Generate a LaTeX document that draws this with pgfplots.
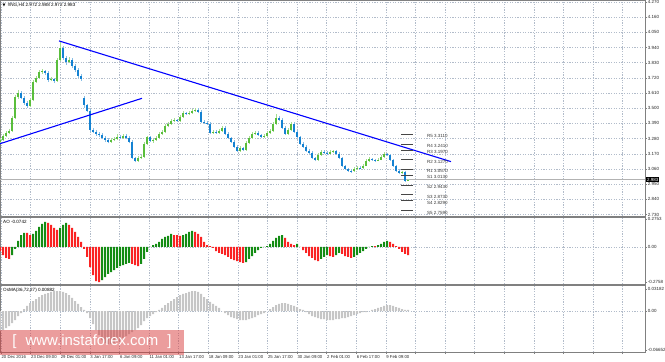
\documentclass[border=0pt]{standalone}
\usepackage{fontspec}
\setmainfont{Liberation Sans}
\newfontfamily\dejavu{DejaVu Sans}
\usepackage{pgfplots}
\usepackage{pgfplotstable}
\pgfplotsset{compat=1.18}

\definecolor{bullbody}{RGB}{90,190,60}
\definecolor{bullwick}{RGB}{165,222,145}
\definecolor{bearbody}{RGB}{20,130,210}
\definecolor{bearwick}{RGB}{135,190,230}
\definecolor{aogreen}{RGB}{20,140,20}
\definecolor{aored}{RGB}{250,35,35}
\definecolor{osmagray}{RGB}{198,198,198}
\definecolor{gridc}{RGB}{178,188,202}
\definecolor{pivc}{RGB}{70,70,70}
\definecolor{wm}{RGB}{215,60,60}

\pgfplotstableread{
x o h l c
0 3.255 3.285 3.245 3.272
3 3.272 3.312 3.262 3.301
6 3.301 3.335 3.292 3.323
9 3.323 3.350 3.312 3.337
12 3.337 3.445 3.330 3.431
15 3.431 3.598 3.425 3.583
18 3.583 3.630 3.570 3.612
21 3.612 3.625 3.565 3.576
24 3.576 3.590 3.525 3.540
27 3.540 3.552 3.500 3.518
30 3.518 3.575 3.510 3.561
33 3.561 3.705 3.552 3.692
36 3.692 3.735 3.680 3.720
39 3.720 3.780 3.712 3.764
42 3.764 3.785 3.750 3.771
45 3.771 3.780 3.742 3.757
48 3.757 3.768 3.690 3.706
51 3.706 3.728 3.695 3.713
54 3.713 3.722 3.685 3.699
57 3.699 3.865 3.692 3.851
60 3.851 3.985 3.840 3.937
63 3.937 3.950 3.850 3.865
66 3.865 3.880 3.815 3.836
69 3.836 3.870 3.825 3.851
72 3.851 3.862 3.790 3.807
75 3.807 3.822 3.762 3.778
78 3.778 3.790 3.720 3.735
81 3.735 3.748 3.700 3.713
84 3.575 3.590 3.505 3.520
87 3.520 3.530 3.470 3.482
90 3.482 3.492 3.330 3.344
93 3.344 3.360 3.318 3.330
96 3.330 3.345 3.300 3.316
99 3.316 3.330 3.295 3.308
102 3.308 3.320 3.275 3.287
105 3.287 3.300 3.258 3.272
108 3.272 3.285 3.245 3.258
111 3.258 3.285 3.250 3.272
114 3.272 3.292 3.262 3.279
117 3.279 3.310 3.270 3.294
120 3.294 3.305 3.275 3.287
123 3.287 3.315 3.280 3.301
126 3.301 3.312 3.275 3.287
129 3.287 3.296 3.245 3.258
132 3.258 3.268 3.130 3.142
135 3.142 3.150 3.108 3.120
138 3.120 3.155 3.112 3.142
141 3.142 3.162 3.135 3.149
144 3.149 3.255 3.142 3.240
147 3.240 3.302 3.232 3.290
150 3.290 3.298 3.255 3.265
153 3.265 3.280 3.250 3.272
156 3.272 3.298 3.265 3.287
159 3.287 3.328 3.278 3.316
162 3.316 3.342 3.305 3.330
165 3.330 3.385 3.322 3.373
168 3.373 3.400 3.362 3.388
171 3.388 3.422 3.378 3.410
174 3.410 3.430 3.400 3.417
177 3.417 3.425 3.398 3.410
180 3.410 3.450 3.402 3.438
183 3.438 3.480 3.430 3.467
186 3.467 3.475 3.450 3.460
189 3.460 3.478 3.452 3.467
192 3.467 3.495 3.460 3.482
195 3.482 3.505 3.475 3.489
198 3.489 3.500 3.462 3.475
201 3.475 3.485 3.390 3.402
204 3.402 3.412 3.385 3.395
207 3.395 3.405 3.375 3.388
210 3.388 3.398 3.310 3.323
213 3.323 3.342 3.315 3.330
216 3.330 3.340 3.312 3.323
219 3.323 3.350 3.315 3.337
222 3.337 3.372 3.330 3.359
225 3.359 3.368 3.305 3.316
228 3.316 3.325 3.275 3.287
231 3.287 3.295 3.245 3.258
234 3.258 3.268 3.210 3.222
237 3.222 3.232 3.182 3.193
240 3.193 3.225 3.185 3.214
243 3.214 3.222 3.190 3.200
246 3.200 3.262 3.192 3.250
249 3.250 3.298 3.242 3.287
252 3.287 3.328 3.280 3.316
255 3.316 3.335 3.308 3.323
258 3.323 3.332 3.298 3.308
261 3.308 3.315 3.282 3.294
264 3.294 3.312 3.285 3.301
267 3.301 3.335 3.292 3.323
270 3.323 3.350 3.315 3.337
273 3.337 3.400 3.330 3.388
276 3.388 3.455 3.380 3.431
279 3.431 3.445 3.405 3.417
282 3.417 3.428 3.350 3.359
285 3.359 3.368 3.305 3.316
288 3.316 3.355 3.308 3.344
291 3.344 3.400 3.335 3.388
294 3.388 3.398 3.320 3.330
297 3.330 3.340 3.285 3.294
300 3.294 3.302 3.235 3.243
303 3.243 3.252 3.212 3.222
306 3.222 3.232 3.182 3.193
309 3.193 3.202 3.168 3.178
312 3.178 3.188 3.132 3.142
315 3.142 3.150 3.115 3.128
318 3.128 3.175 3.120 3.164
321 3.164 3.200 3.155 3.185
324 3.185 3.195 3.168 3.178
327 3.178 3.188 3.162 3.171
330 3.171 3.198 3.165 3.185
333 3.185 3.198 3.175 3.190
336 3.190 3.198 3.162 3.171
339 3.171 3.180 3.132 3.142
342 3.142 3.150 3.075 3.084
345 3.084 3.092 3.052 3.062
348 3.062 3.070 3.038 3.048
351 3.048 3.058 3.030 3.045
354 3.045 3.072 3.038 3.062
357 3.062 3.082 3.055 3.070
360 3.070 3.078 3.060 3.068
363 3.068 3.095 3.062 3.084
366 3.084 3.132 3.078 3.120
369 3.120 3.145 3.112 3.135
372 3.135 3.142 3.120 3.128
375 3.128 3.135 3.112 3.120
378 3.120 3.138 3.115 3.128
381 3.128 3.160 3.122 3.149
384 3.149 3.182 3.142 3.171
387 3.171 3.178 3.155 3.164
390 3.164 3.170 3.120 3.128
393 3.128 3.135 3.075 3.084
396 3.084 3.092 3.040 3.048
399 3.048 3.060 3.022 3.030
402 3.030 3.048 3.020 3.040
405 3.040 3.045 2.965 2.972
408 2.972 2.988 2.972 2.983
}\candles

\pgfplotstableread{
x v g
0 -0.037 0
3 -0.074 0
6 -0.101 0
9 -0.110 0
12 -0.074 1
15 -0.018 1
18 0.055 1
21 0.110 1
24 0.129 1
27 0.129 0
30 0.110 0
33 0.120 1
36 0.147 1
39 0.184 1
42 0.212 1
45 0.230 1
48 0.221 0
51 0.202 0
54 0.175 0
57 0.156 0
60 0.175 1
63 0.202 1
66 0.221 1
69 0.202 0
72 0.175 0
75 0.138 0
78 0.092 0
81 0.046 0
84 -0.018 0
87 -0.092 0
90 -0.184 0
93 -0.258 0
96 -0.313 0
99 -0.322 0
102 -0.304 1
105 -0.276 1
108 -0.248 1
111 -0.230 1
114 -0.212 1
117 -0.193 1
120 -0.175 1
123 -0.166 1
126 -0.156 1
129 -0.147 1
132 -0.156 0
135 -0.166 0
138 -0.175 0
141 -0.156 1
144 -0.110 1
147 -0.046 1
150 0.000 1
153 0.018 1
156 0.028 1
159 0.046 1
162 0.074 1
165 0.092 1
168 0.101 1
171 0.120 1
174 0.110 0
177 0.110 0
180 0.101 0
183 0.110 1
186 0.120 1
189 0.138 1
192 0.147 1
195 0.138 0
198 0.120 0
201 0.092 0
204 0.046 0
207 0.018 0
210 0.009 0
213 -0.009 0
216 -0.037 0
219 -0.055 0
222 -0.064 0
225 -0.074 0
228 -0.092 0
231 -0.110 0
234 -0.120 0
237 -0.129 0
240 -0.138 0
243 -0.147 0
246 -0.138 1
249 -0.110 1
252 -0.083 1
255 -0.055 1
258 -0.028 1
261 -0.009 1
264 0.000 1
267 0.009 1
270 0.028 1
273 0.055 1
276 0.083 1
279 0.101 1
282 0.110 1
285 0.083 0
288 0.046 0
291 0.028 0
294 0.018 0
297 0.028 1
300 0.000 0
303 -0.028 0
306 -0.055 0
309 -0.083 0
312 -0.101 0
315 -0.120 0
318 -0.129 0
321 -0.110 1
324 -0.092 1
327 -0.074 1
330 -0.083 0
333 -0.092 0
336 -0.074 1
339 -0.055 1
342 -0.064 0
345 -0.083 0
348 -0.092 0
351 -0.101 0
354 -0.092 1
357 -0.074 1
360 -0.055 1
363 -0.037 1
366 -0.018 1
369 0.000 1
372 0.009 1
375 0.009 0
378 0.018 1
381 0.028 1
384 0.046 1
387 0.055 1
390 0.046 0
393 0.028 0
396 0.009 0
399 -0.018 0
402 -0.046 0
405 -0.064 0
408 -0.074 0
}\aotab

\pgfplotstableread{
x v
0 -0.0290
3 -0.0276
6 -0.0247
9 -0.0218
12 -0.0174
15 -0.0131
18 -0.0073
21 -0.0029
24 0.0029
27 0.0073
30 0.0116
33 0.0145
36 0.0174
39 0.0203
42 0.0232
45 0.0247
48 0.0261
51 0.0276
54 0.0290
57 0.0290
60 0.0290
63 0.0276
66 0.0261
69 0.0232
72 0.0189
75 0.0145
78 0.0102
81 0.0058
84 0.0015
87 -0.0029
90 -0.0102
93 -0.0189
96 -0.0276
99 -0.0348
102 -0.0421
105 -0.0464
108 -0.0479
111 -0.0479
114 -0.0464
117 -0.0450
120 -0.0421
123 -0.0392
126 -0.0363
129 -0.0334
132 -0.0305
135 -0.0276
138 -0.0247
141 -0.0203
144 -0.0145
147 -0.0102
150 -0.0073
153 -0.0044
156 -0.0015
159 0.0015
162 0.0044
165 0.0087
168 0.0116
171 0.0145
174 0.0174
177 0.0203
180 0.0232
183 0.0247
186 0.0261
189 0.0276
192 0.0290
195 0.0290
198 0.0276
201 0.0247
204 0.0203
207 0.0174
210 0.0131
213 0.0102
216 0.0073
219 0.0044
222 0.0000
225 -0.0029
228 -0.0058
231 -0.0087
234 -0.0102
237 -0.0116
240 -0.0131
243 -0.0131
246 -0.0131
249 -0.0116
252 -0.0102
255 -0.0087
258 -0.0058
261 -0.0044
264 -0.0029
267 0.0000
270 0.0029
273 0.0058
276 0.0087
279 0.0102
282 0.0116
285 0.0116
288 0.0102
291 0.0087
294 0.0073
297 0.0058
300 0.0029
303 0.0015
306 -0.0015
309 -0.0044
312 -0.0073
315 -0.0087
318 -0.0102
321 -0.0116
324 -0.0116
327 -0.0131
330 -0.0131
333 -0.0131
336 -0.0116
339 -0.0116
342 -0.0102
345 -0.0102
348 -0.0087
351 -0.0073
354 -0.0058
357 -0.0044
360 -0.0029
363 -0.0015
366 -0.0015
369 0.0000
372 0.0015
375 0.0029
378 0.0044
381 0.0058
384 0.0073
387 0.0087
390 0.0087
393 0.0073
396 0.0058
399 0.0044
402 0.0029
405 0.0015
408 0.0015
}\osmatab

\tikzset{
  pivlab/.style={anchor=west, font=\fontsize{4.5}{5}\selectfont, text=black!80, inner sep=0pt, yshift=-2bp},
}
\pgfplotsset{
  mtbase/.style={
    scale only axis, width=645bp, xmin=0, xmax=645,
    axis line style={draw=black!50, line width=0.6bp},
    tick style={draw=black!50, line width=0.4bp},
    major tick length=2bp, tick align=outside,
    xtick pos=left, ytick pos=right, yticklabel pos=right,
    scaled y ticks=false, scaled x ticks=false,
    xtick={1,30.6,60.2,89.8,119.4,149,178.6,208.2,237.8,267.4,297,326.6,356.2,385.8,415.4,445,474.6,504.2,533.8,563.4,593,622.6},
    xmajorgrids, ymajorgrids,
    grid style={draw=gridc, dash pattern=on 1.2bp off 1.4bp, line width=0.45bp},
    ticklabel style={font=\fontsize{4.5}{5}\selectfont, text=black!85},
    yticklabel style={anchor=west, inner xsep=0.6bp},
    /pgf/number format/assume math mode=true,
    clip=false,
  },
  wickbull/.style={draw=bullwick, line width=0.7bp, quiver={u=0, v=\thisrow{h}-\thisrow{l}},
    restrict expr to domain={\thisrow{c}-\thisrow{o}}{0:10}},
  wickbear/.style={draw=bearwick, line width=0.7bp, quiver={u=0, v=\thisrow{h}-\thisrow{l}},
    restrict expr to domain={\thisrow{c}-\thisrow{o}}{-10:-0.0001}},
  bodybull/.style={draw=bullbody, line width=2.1bp, quiver={u=0, v=\thisrow{c}-\thisrow{o}},
    restrict expr to domain={\thisrow{c}-\thisrow{o}}{0:10}},
  bodybear/.style={draw=bearbody, line width=2.1bp, quiver={u=0, v=\thisrow{c}-\thisrow{o}},
    restrict expr to domain={\thisrow{c}-\thisrow{o}}{-10:-0.0001}},
  pivot/.style={draw=pivc, line width=0.7bp},
}

\begin{document}
\begin{tikzpicture}
\path[use as bounding box] (0bp,0bp) rectangle (665bp,-362bp);

% ---------- price panel ----------
\begin{axis}[mtbase, at={(0bp,0bp)}, anchor=north west, height=216bp,
  ymin=2.719, ymax=4.2845, xticklabels={},
  ytick={2.73,2.84,2.95,3.06,3.17,3.28,3.39,3.50,3.61,3.72,3.83,3.94,4.05,4.16,4.27},
  yticklabels={2.730,2.840,2.950,3.060,3.170,3.280,3.390,3.500,3.610,3.720,3.830,3.940,4.050,4.160,4.270}]
  \addplot[draw=black!30, line width=0.6bp] coordinates {(0,2.983) (645,2.983)};
  \addplot[wickbull] table[x=x, y=l] {\candles};
  \addplot[wickbear] table[x=x, y=l] {\candles};
  \addplot[bodybull] table[x=x, y=o] {\candles};
  \addplot[bodybear] table[x=x, y=o] {\candles};
  \addplot[draw=blue, line width=1.1bp] coordinates {(59,3.988) (451,3.113)};
  \addplot[draw=blue, line width=1.1bp] coordinates {(0,3.243) (142,3.572)};
  \addplot[pivot] coordinates {(401,3.311) (413,3.311)};
  \addplot[pivot] coordinates {(401,3.241) (413,3.241)};
  \addplot[pivot] coordinates {(401,3.197) (413,3.197)};
  \addplot[pivot] coordinates {(401,3.127) (413,3.127)};
  \addplot[pivot] coordinates {(401,3.057) (413,3.057)};
  \addplot[pivot] coordinates {(401,3.013) (413,3.013)};
  \addplot[pivot] coordinates {(401,2.943) (413,2.943)};
  \addplot[pivot] coordinates {(401,2.873) (413,2.873)};
  \addplot[pivot] coordinates {(401,2.829) (413,2.829)};
  \addplot[pivot] coordinates {(401,2.759) (413,2.759)};
  \node[pivlab] at (axis cs:427,3.311) {R5 3.3110};
  \node[pivlab] at (axis cs:427,3.241) {R4 3.2410};
  \node[pivlab] at (axis cs:427,3.197) {R3 3.1970};
  \node[pivlab] at (axis cs:427,3.127) {R2 3.1270};
  \node[pivlab] at (axis cs:427,3.057) {R1 3.0570};
  \node[pivlab] at (axis cs:427,3.013) {S1 3.0130};
  \node[pivlab] at (axis cs:427,2.943) {S2 2.9430};
  \node[pivlab] at (axis cs:427,2.873) {S3 2.8730};
  \node[pivlab] at (axis cs:427,2.829) {S4 2.8290};
  \node[pivlab] at (axis cs:427,2.759) {S5 2.7590};
  \node[fill=black, text=white, anchor=west, inner xsep=1bp, inner ysep=0.8bp,
        font=\fontsize{4.5}{5}\selectfont] at (axis cs:646,2.983) {2.983};
\end{axis}

% ---------- AO panel ----------
\begin{axis}[mtbase, at={(0bp,-217bp)}, anchor=north west, height=67bp,
  ymin=-0.34, ymax=0.2753, xticklabels={},
  ytick={0}, yticklabels={0.00},
  extra y ticks={0.257,-0.321}, extra y tick labels={0.2753,-0.2758},
  extra y tick style={grid=none}]
  \addplot[ybar, bar width=2bp, bar shift=0pt, fill=aogreen, draw=none,
    restrict expr to domain={\thisrow{g}}{1:1}] table[x=x, y=v] {\aotab};
  \addplot[ybar, bar width=2bp, bar shift=0pt, fill=aored, draw=none,
    restrict expr to domain={\thisrow{g}}{0:0}] table[x=x, y=v] {\aotab};
\end{axis}

% ---------- OsMA panel ----------
\begin{axis}[mtbase, at={(0bp,-285bp)}, anchor=north west, height=67bp,
  ymin=-0.0594, ymax=0.0377,
  ytick={0}, yticklabels={0.00},
  extra y ticks={0.03182,-0.0566}, extra y tick labels={0.03182,-0.06652},
  extra y tick style={grid=none},
  xticklabels={20 Dec 2016,23 Dec 09:00,29 Dec 01:00,3 Jan 17:00,6 Jan 09:00,11 Jan 01:00,13 Jan 17:00,18 Jan 09:00,23 Jan 01:00,25 Jan 17:00,30 Jan 09:00,2 Feb 01:00,6 Feb 17:00,9 Feb 09:00,,,,,,,,},
  xticklabel style={anchor=north west, inner xsep=0.4bp, inner ysep=1.2bp, font=\fontsize{4.3}{5}\selectfont}]
  \addplot[ybar, bar width=2bp, bar shift=0pt, fill=osmagray, draw=none] table[x=x, y=v] {\osmatab};
\end{axis}

% ---------- panel titles ----------
\node[anchor=west, inner sep=0pt, font=\fontsize{4.6}{5}\selectfont] at (2.5bp,-5.5bp)
  {{\dejavu\fontsize{3.8}{4}\selectfont ▼}\hspace{2.2bp}\#NG,H4 2.972 2.988 2.972 2.983};
\node[anchor=west, inner sep=0pt, font=\fontsize{4.6}{5}\selectfont] at (3bp,-221.5bp) {AO -0.0742};
\node[anchor=west, inner sep=0pt, font=\fontsize{4.6}{5}\selectfont] at (3bp,-290bp) {OsMA(36,72,27) 0.00882};

% ---------- watermark ----------
\fill[wm, opacity=0.5] (0bp,-330bp) rectangle (184bp,-355bp);
\node[text=white, inner sep=0pt, font=\fontsize{15}{16}\selectfont] at (92bp,-342bp)
  {[\hspace{9bp}www.instaforex.com\hspace{9bp}]};
\end{tikzpicture}
\end{document}
